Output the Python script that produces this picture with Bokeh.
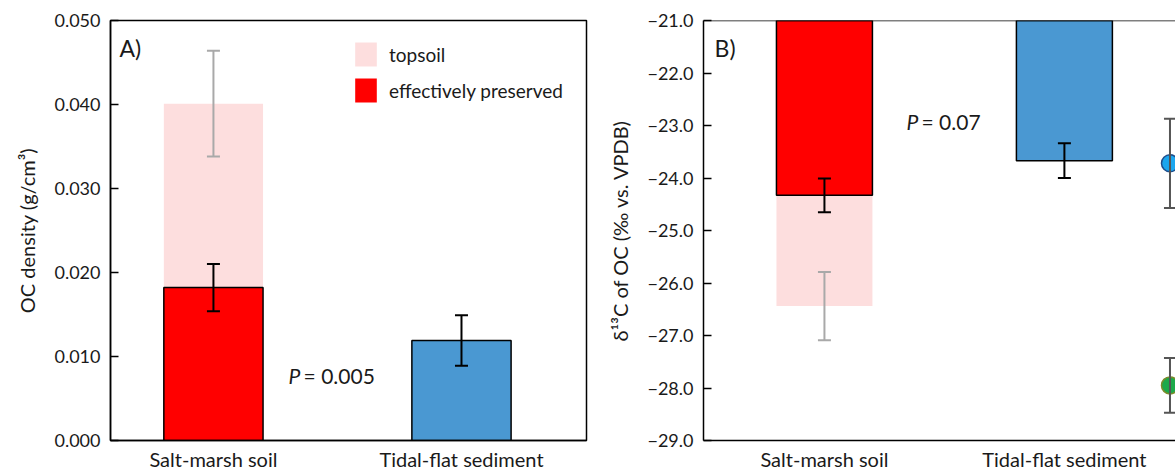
from bokeh.plotting import figure
from bokeh.models import (ColumnDataSource, Range1d, FixedTicker, Whisker, TeeHead,
                          Label, Legend, LegendItem, Span)
from bokeh.layouts import row
from bokeh.embed import file_html
from bokeh.resources import INLINE

# ---------------- data ----------------
categories = ["Salt-marsh soil", "Tidal-flat sediment"]
cat_x = [1, 2]

# Panel A: OC density (g/cm3)
a_topsoil = [0.0401]           # salt-marsh only
a_topsoil_err = [0.0063]
a_preserved = [0.0182, 0.0119]
a_preserved_err = [0.0028, 0.0030]
a_pvalue = "0.005"
a_yticks = [0.0, 0.01, 0.02, 0.03, 0.04, 0.05]

# Panel B: d13C of OC (permil vs VPDB)
b_topsoil = [-26.44]           # salt-marsh only
b_topsoil_err = [0.65]
b_preserved = [-24.33, -23.67]
b_preserved_err = [0.32, 0.33]
b_pvalue = "0.07"
b_yticks = [-29, -28, -27, -26, -25, -24, -23, -22, -21]
# end-member reference points (marine / terrestrial)
em_x = [2.44, 2.44]
em_val = [-23.72, -27.95]
em_err = [0.85, 0.52]
em_fill = ["#1BA6EE", "#1DA94A"]
em_line = ["#1F4E8C", "#7A8B2A"]

FONT = "Lato"
PINK = "#FDDEDE"
RED = "#FF0000"
BLUE = "#4A98D2"
GREY_ERR = "#A9A9A9"
TXT = "#1a1a1a"
BAR_W = 0.40


def style_common(p):
    p.xgrid.visible = False
    p.ygrid.visible = False
    p.background_fill_color = "white"
    p.border_fill_color = "white"
    for ax in p.yaxis:
        ax.major_tick_in = 8
        ax.major_tick_out = 0
        ax.minor_tick_in = 0
        ax.minor_tick_out = 0
        ax.axis_line_color = "black"
        ax.axis_line_width = 1.5
        ax.major_tick_line_width = 1.5
        ax.major_tick_line_color = "black"
        ax.major_label_text_font = FONT
        ax.major_label_text_font_size = "18px"
        ax.major_label_text_color = TXT
        ax.major_label_standoff = 10
        ax.axis_label_text_font = FONT
        ax.axis_label_text_font_size = "20px"
        ax.axis_label_text_font_style = "normal"
        ax.axis_label_text_color = TXT
        ax.axis_label_standoff = 12
    for ax in p.xaxis:
        ax.ticker = FixedTicker(ticks=cat_x)
        ax.major_label_overrides = {x: c for x, c in zip(cat_x, categories)}
        ax.major_tick_in = 0
        ax.major_tick_out = 0
        ax.minor_tick_in = 0
        ax.minor_tick_out = 0
        ax.axis_line_color = "black"
        ax.axis_line_width = 1.5
        ax.major_label_text_font = FONT
        ax.major_label_text_font_size = "20px"
        ax.major_label_text_color = TXT
        ax.major_label_standoff = 6


def whisker(p, xs, vals, errs, color, size=13):
    src = ColumnDataSource(dict(x=xs,
                                lo=[v - e for v, e in zip(vals, errs)],
                                hi=[v + e for v, e in zip(vals, errs)]))
    w = Whisker(base="x", lower="lo", upper="hi", source=src, level="annotation",
                line_color=color, line_width=2,
                lower_head=TeeHead(size=size, line_color=color, line_width=2),
                upper_head=TeeHead(size=size, line_color=color, line_width=2))
    p.add_layout(w)


# ---------------- Panel A ----------------
pA = figure(width=595, height=473, output_backend="svg", toolbar_location=None,
            x_range=Range1d(0.585, 2.504), y_range=Range1d(0, 0.05),
            min_border_left=110, min_border_right=9, min_border_top=20,
            min_border_bottom=31)
pA.outline_line_color = "black"
pA.outline_line_width = 1.5

srcA_top = ColumnDataSource(dict(x=cat_x[:1], top=a_topsoil))
r_pink = pA.vbar(x="x", top="top", bottom=0, width=BAR_W, source=srcA_top,
                 fill_color=PINK, line_color=None)
srcA_pres = ColumnDataSource(dict(x=cat_x, top=a_preserved, c=[RED, BLUE]))
r_fill = pA.vbar(x="x", top="top", bottom=0, width=BAR_W, source=srcA_pres,
                 fill_color="c", line_color=None)
pA.vbar(x="x", top="top", bottom=0, width=BAR_W, source=srcA_pres,
        fill_color=None, line_color="black", line_width=1.5)

whisker(pA, cat_x[:1], a_topsoil, a_topsoil_err, GREY_ERR)
whisker(pA, cat_x, a_preserved, a_preserved_err, "black")

pA.yaxis.ticker = FixedTicker(ticks=a_yticks)
pA.yaxis.major_label_overrides = {t: f"{t:.3f}" for t in a_yticks}
pA.yaxis.axis_label = "OC density (g/cm³)"
style_common(pA)

legend = Legend(items=[LegendItem(label="topsoil", renderers=[r_pink]),
                       LegendItem(label="effectively preserved", renderers=[r_fill], index=0)],
                location=(242, 335), orientation="vertical",
                glyph_width=27, glyph_height=30, label_height=30, spacing=6,
                padding=0, margin=0, border_line_color=None,
                background_fill_alpha=0, label_standoff=10,
                label_text_font=FONT, label_text_font_size="19px",
                label_text_color=TXT)
pA.add_layout(legend, "center")

pA.add_layout(Label(x=0.621, y=0.0467, text="A)", text_font=FONT,
                    text_font_size="23px", text_baseline="middle", text_color=TXT))
pA.add_layout(Label(x=1.303, y=0.00774, text="P", text_font=FONT,
                    text_font_style="italic", text_font_size="21px",
                    text_baseline="middle", text_color=TXT))
pA.add_layout(Label(x=1.303, y=0.00774, x_offset=15, text="= " + a_pvalue,
                    text_font=FONT, text_font_size="21px",
                    text_baseline="middle", text_color=TXT))

# ---------------- Panel B ----------------
pB = figure(width=580, height=473, output_backend="svg", toolbar_location=None,
            x_range=Range1d(0.496, 2.463), y_range=Range1d(-29, -21),
            min_border_left=108, min_border_right=0, min_border_top=20,
            min_border_bottom=31)
pB.outline_line_color = None

pB.vbar(x=cat_x[:1], top=-21, bottom=b_topsoil, width=BAR_W,
        fill_color=PINK, line_color=None)
srcB_pres = ColumnDataSource(dict(x=cat_x, bottom=b_preserved, c=[RED, BLUE]))
pB.vbar(x="x", top=-21, bottom="bottom", width=BAR_W, source=srcB_pres,
        fill_color="c", line_color="black", line_width=1.5)

whisker(pB, cat_x[:1], b_topsoil, b_topsoil_err, GREY_ERR)
whisker(pB, cat_x, b_preserved, b_preserved_err, "black")
whisker(pB, em_x, em_val, em_err, "#555555", size=12)
srcEM = ColumnDataSource(dict(x=em_x, y=em_val, f=em_fill, l=em_line))
pB.scatter(x="x", y="y", source=srcEM, size=17, fill_color="f", line_color="l",
           line_width=1.5)

pB.yaxis.ticker = FixedTicker(ticks=b_yticks)
pB.yaxis.major_label_overrides = {t: f"\u2212{abs(t):.1f}" for t in b_yticks}
pB.yaxis.axis_label = "δ¹³C of OC (‰ vs. VPDB)"
style_common(pB)
pB.add_layout(Span(location=b_yticks[-1], dimension="width", line_color="black",
                   line_width=1.5, level="annotation"))

pB.add_layout(Label(x=0.542, y=-21.53, text="B)", text_font=FONT,
                    text_font_size="23px", text_baseline="middle", text_color=TXT))
pB.add_layout(Label(x=1.342, y=-22.93, text="P", text_font=FONT,
                    text_font_style="italic", text_font_size="21px",
                    text_baseline="middle", text_color=TXT))
pB.add_layout(Label(x=1.342, y=-22.93, x_offset=15, text="= " + b_pvalue,
                    text_font=FONT, text_font_size="21px",
                    text_baseline="middle", text_color=TXT))

layout = row(pA, pB, spacing=0)
open("out.html", "w").write(file_html(layout, INLINE))
